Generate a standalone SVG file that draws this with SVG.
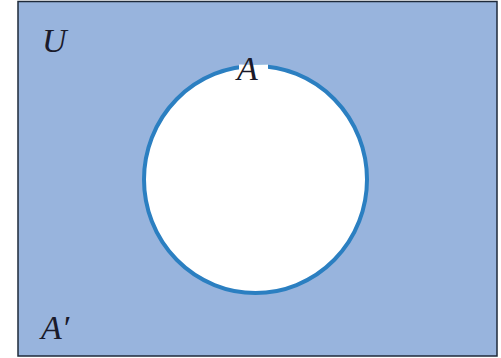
<svg xmlns="http://www.w3.org/2000/svg" width="501" height="358" viewBox="0 0 501 358">
<style>
.lbl{font-family:"Liberation Serif","DejaVu Serif",serif;font-style:italic;font-size:34px;fill:#1a1a2a}
</style>
<rect width="501" height="358" fill="#ffffff"/>
<g id="universe">
<rect x="18" y="1.5" width="479" height="354.5" fill="#98b4dd" stroke="#1e2a3a" stroke-width="1.5"/>
</g>
<g id="setA">
<ellipse cx="255.5" cy="179.5" rx="111.5" ry="113.5" fill="#ffffff" stroke="#2b7fc1" stroke-width="4"/>
<rect x="239" y="64.5" width="29" height="8" fill="#ffffff"/>
</g>
<g id="labels">
<text class="lbl" x="42" y="52">U</text>
<text class="lbl" x="237" y="80">A</text>
<text class="lbl" x="41" y="339">A′</text>
</g>
</svg>
